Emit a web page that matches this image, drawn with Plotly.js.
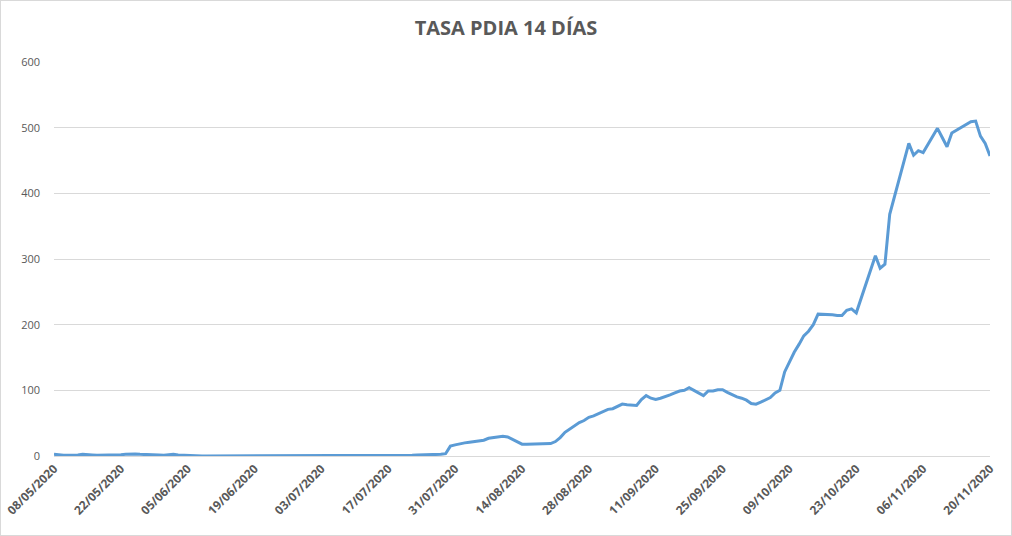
<html>
<head>
<script src="https://cdn.plot.ly/plotly-3.0.1.min.js"></script>
<style>
  body { margin: 0; background: #fff; }
  #chart { width: 1010px; height: 534px; border: 1px solid #d9d9d9; }
</style>
</head>
<body>
<div id="chart"></div>
<script>
  // daily values from 08/05/2020 to 20/11/2020
  const startDate = "2020-05-08";
  const tasa = [
    2.5, 1.5, 1, 1, 1, 1.5, 2.5, 2.5, 1.5, 1,          // 08/05 - 17/05
    1, 1, 1, 1, 2, 2.5, 3, 3, 2.5, 2.5,                 // 18/05 - 27/05
    1.5, 2, 1.5, 1, 1.5, 2.5, 1.5, 1, 0.5, 0,           // 28/05 - 06/06
    0, 0, 0, 0, 0, 0, 0, 0, 0, 0,                       // 07/06 - 16/06
    0, 0, 0, 0, 0, 0, 0, 0, 0, 0,                       // 17/06 - 26/06
    0, 0, 0, 0, 0, 0, 0, 0, 0, 0,                       // 27/06 - 06/07
    0, 0, 0, 0, 0, 0, 0, 0, 0, 1,                       // 07/07 - 16/07
    1, 1, 1, 1, 1, 1, 1.5, 1.5, 1.5, 1.5,               // 17/07 - 26/07
    2, 2.5, 3.5, 15, 17, 19, 20, 21, 22, 24,            // 27/07 - 05/08
    24, 27, 28, 29, 30, 29, 25, 21, 18, 18,             // 06/08 - 15/08
    18, 18, 18, 18, 19, 22, 28, 36, 41, 46,             // 16/08 - 25/08
    51, 54, 59, 61, 64, 67, 71, 72, 76, 79,             // 26/08 - 04/09
    78, 78, 77, 86, 92, 88, 86, 88, 90, 93,             // 05/09 - 14/09
    96, 99, 100, 104, 100, 96, 92, 99, 99, 101,         // 15/09 - 24/09
    101, 97, 93, 90, 88, 85, 80, 79, 82, 85,            // 25/09 - 04/10
    89, 96, 100, 128, 143, 158, 170, 183, 190, 200,     // 05/10 - 14/10
    216, 216, 215, 215, 214, 214, 222, 224, 218, 240,   // 15/10 - 24/10
    262, 285, 305, 286, 292, 368, 395, 424, 452, 476,   // 25/10 - 03/11
    458, 465, 462, 474, 487, 499, 485, 471, 492, 496,   // 04/11 - 13/11
    500, 505, 509, 510, 487, 476, 457                   // 14/11 - 20/11
  ];

  const fechas = [];
  const d0 = new Date(startDate + "T00:00:00Z");
  for (let i = 0; i < tasa.length; i++) {
    const d = new Date(d0.getTime() + i * 86400000);
    fechas.push(d.toISOString().slice(0, 10));
  }

  const data = [{
    x: fechas,
    y: tasa,
    type: "scatter",
    mode: "lines",
    line: { color: "#5b9bd5", width: 3 },
    hoverinfo: "x+y"
  }];

  const layout = {
    width: 1010,
    height: 534,
    margin: { l: 53, r: 21, t: 61, b: 79 },
    paper_bgcolor: "#ffffff",
    plot_bgcolor: "#ffffff",
    showlegend: false,
    title: {
      text: "<b>TASA PDIA 14 DÍAS</b>",
      x: 0.5, xanchor: "center",
      y: 0.95, yanchor: "middle",
      font: { family: "Open Sans, Liberation Sans, sans-serif", size: 20, color: "#595959" }
    },
    xaxis: {
      type: "date",
      range: ["2020-05-08", "2020-11-20"],
      tick0: "2020-05-08",
      dtick: 14 * 86400000,
      tickformat: "%d/%m/%Y",
      tickangle: -45,
      showgrid: false,
      showline: true,
      linecolor: "#d9d9d9",
      linewidth: 1,
      ticks: "",
      zeroline: false,
      automargin: false,
      tickfont: { family: "Open Sans, Liberation Sans, sans-serif", size: 12, color: "#595959", weight: "bold" }
    },
    yaxis: {
      range: [0, 600],
      dtick: 100,
      showgrid: true,
      gridcolor: "#d9d9d9",
      gridwidth: 1,
      zeroline: false,
      showline: false,
      ticks: "",
      ticklabelstandoff: 13,
      automargin: false,
      tickfont: { family: "Open Sans, Liberation Sans, sans-serif", size: 11, color: "#595959" }
    }
  };

  Plotly.newPlot("chart", data, layout, { displayModeBar: false, staticPlot: true });
</script>
</body>
</html>
